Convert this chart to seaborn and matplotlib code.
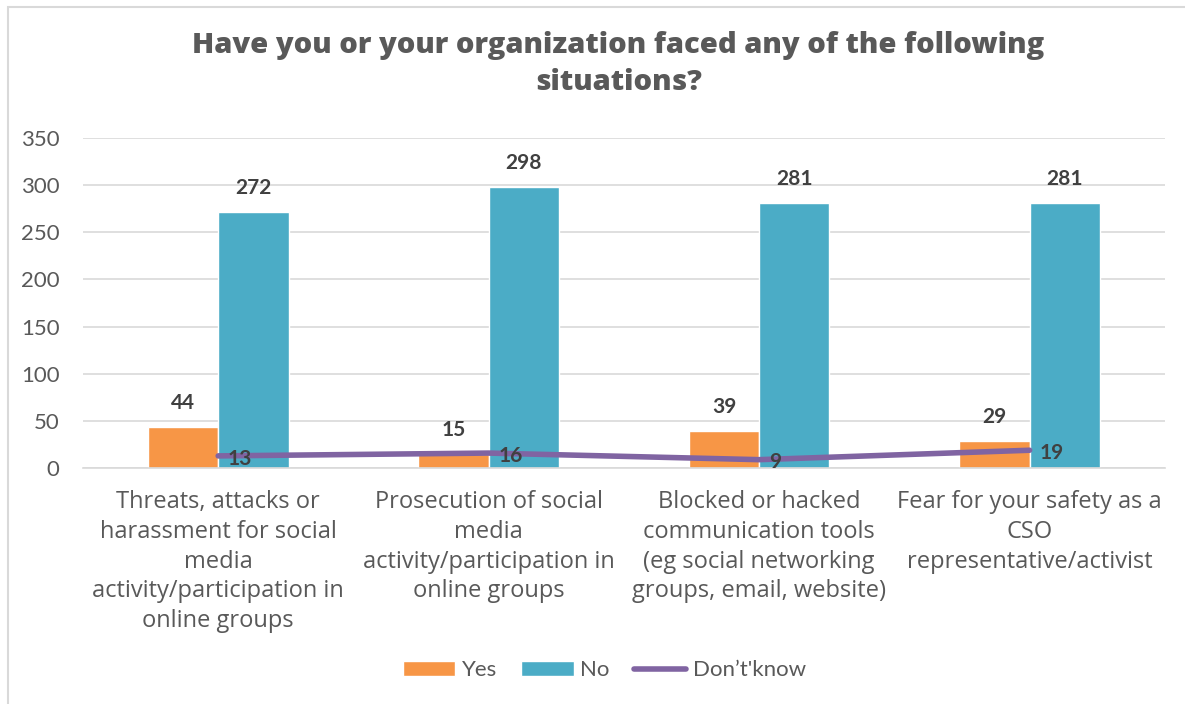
import matplotlib
matplotlib.use("Agg")
import matplotlib.pyplot as plt
import seaborn as sns
import pandas as pd
from matplotlib.patches import Rectangle, Patch
from matplotlib.lines import Line2D

categories = [
    "Threats, attacks or\nharassment for social\nmedia\nactivity/participation in\nonline groups",
    "Prosecution of social\nmedia\nactivity/participation in\nonline groups",
    "Blocked or hacked\ncommunication tools\n(eg social networking\ngroups, email, website)",
    "Fear for your safety as a\nCSO\nrepresentative/activist",
]
yes_values = [44, 15, 39, 29]
no_values = [272, 298, 281, 281]
dontknow_values = [13, 16, 9, 19]
y_ticks = [0, 50, 100, 150, 200, 250, 300, 350]

sns.set_theme(style="white")
plt.rcParams["font.family"] = ["Lato", "DejaVu Sans"]

TEXT = "#595959"
ORANGE = "#F79646"
TEAL = "#4BACC6"
PURPLE = "#8064A2"

df = pd.DataFrame({
    "cat": categories * 2,
    "series": ["Yes"] * 4 + ["No"] * 4,
    "value": yes_values + no_values,
})

fig = plt.figure(figsize=(11.85, 7.04), dpi=100)
ax = fig.add_axes([0.070, 0.335, 0.913, 0.469])

sns.barplot(data=df, x="cat", y="value", hue="series", order=categories,
            hue_order=["Yes", "No"], palette=[ORANGE, TEAL], width=0.52,
            saturation=1, ax=ax, legend=False)

xs = list(range(len(categories)))
ax.plot(xs, dontknow_values, color=PURPLE, lw=4, solid_capstyle="round", zorder=5)

for cont in ax.containers:
    for bar in cont:
        h = bar.get_height()
        ax.annotate(f"{int(h)}", (bar.get_x() + bar.get_width() / 2, h),
                    xytext=(0, 10), textcoords="offset points", ha="center",
                    va="bottom", fontsize=15, fontweight="bold", color="#404040")
for x, v in zip(xs, dontknow_values):
    ax.annotate(f"{v}", (x, v), xytext=(7, -2), textcoords="offset points",
                ha="left", va="center", fontsize=15, fontweight="bold",
                color="#404040", zorder=6)

ax.set_ylim(0, 350)
ax.set_xlim(-0.5, 3.5)
ax.set_yticks(y_ticks)
ax.set_yticklabels([str(t) for t in y_ticks], fontsize=16, color=TEXT)
ax.set_xticks(xs)
ax.set_xticklabels(categories, fontsize=17, color=TEXT, linespacing=1.31,
                   family=["Open Sans", "DejaVu Sans"])
ax.tick_params(axis="both", length=0)
ax.tick_params(axis="x", pad=16)
ax.tick_params(axis="y", pad=17)
ax.set_xlabel("")
ax.set_ylabel("")
ax.yaxis.grid(True, color="#D9D9D9", lw=1.2)
ax.set_axisbelow(True)
for s in ["top", "right", "left"]:
    ax.spines[s].set_visible(False)
ax.spines["bottom"].set_color("#D9D9D9")
ax.spines["bottom"].set_linewidth(1.2)

title_font = ["Open Sans", "DejaVu Sans"]
fig.text(0.522, 0.936, "Have you or your organization faced any of the following",
         ha="center", va="center", fontsize=21, fontweight=800, color=TEXT,
         family=title_font)
fig.text(0.522, 0.8835, "situations?", ha="center", va="center", fontsize=21,
         fontweight=800, color=TEXT, family=title_font)

handles = [Patch(facecolor=ORANGE, label="Yes"),
           Patch(facecolor=TEAL, label="No"),
           Line2D([0], [0], color=PURPLE, lw=4, solid_capstyle="round", label="Don\u2019t'know")]
fig.legend(handles=handles, loc="center", bbox_to_anchor=(0.51, 0.048), ncol=3,
           frameon=False, fontsize=16, labelcolor=TEXT, handlelength=2.35,
           handleheight=0.65, columnspacing=1.1, handletextpad=0.3)

fig.patches.append(Rectangle((0.007, -0.01), 1.2, 1.0, transform=fig.transFigure,
                             fill=False, edgecolor="#D9D9D9", lw=1.5))

fig.savefig("out.png", dpi=100, facecolor="white")
